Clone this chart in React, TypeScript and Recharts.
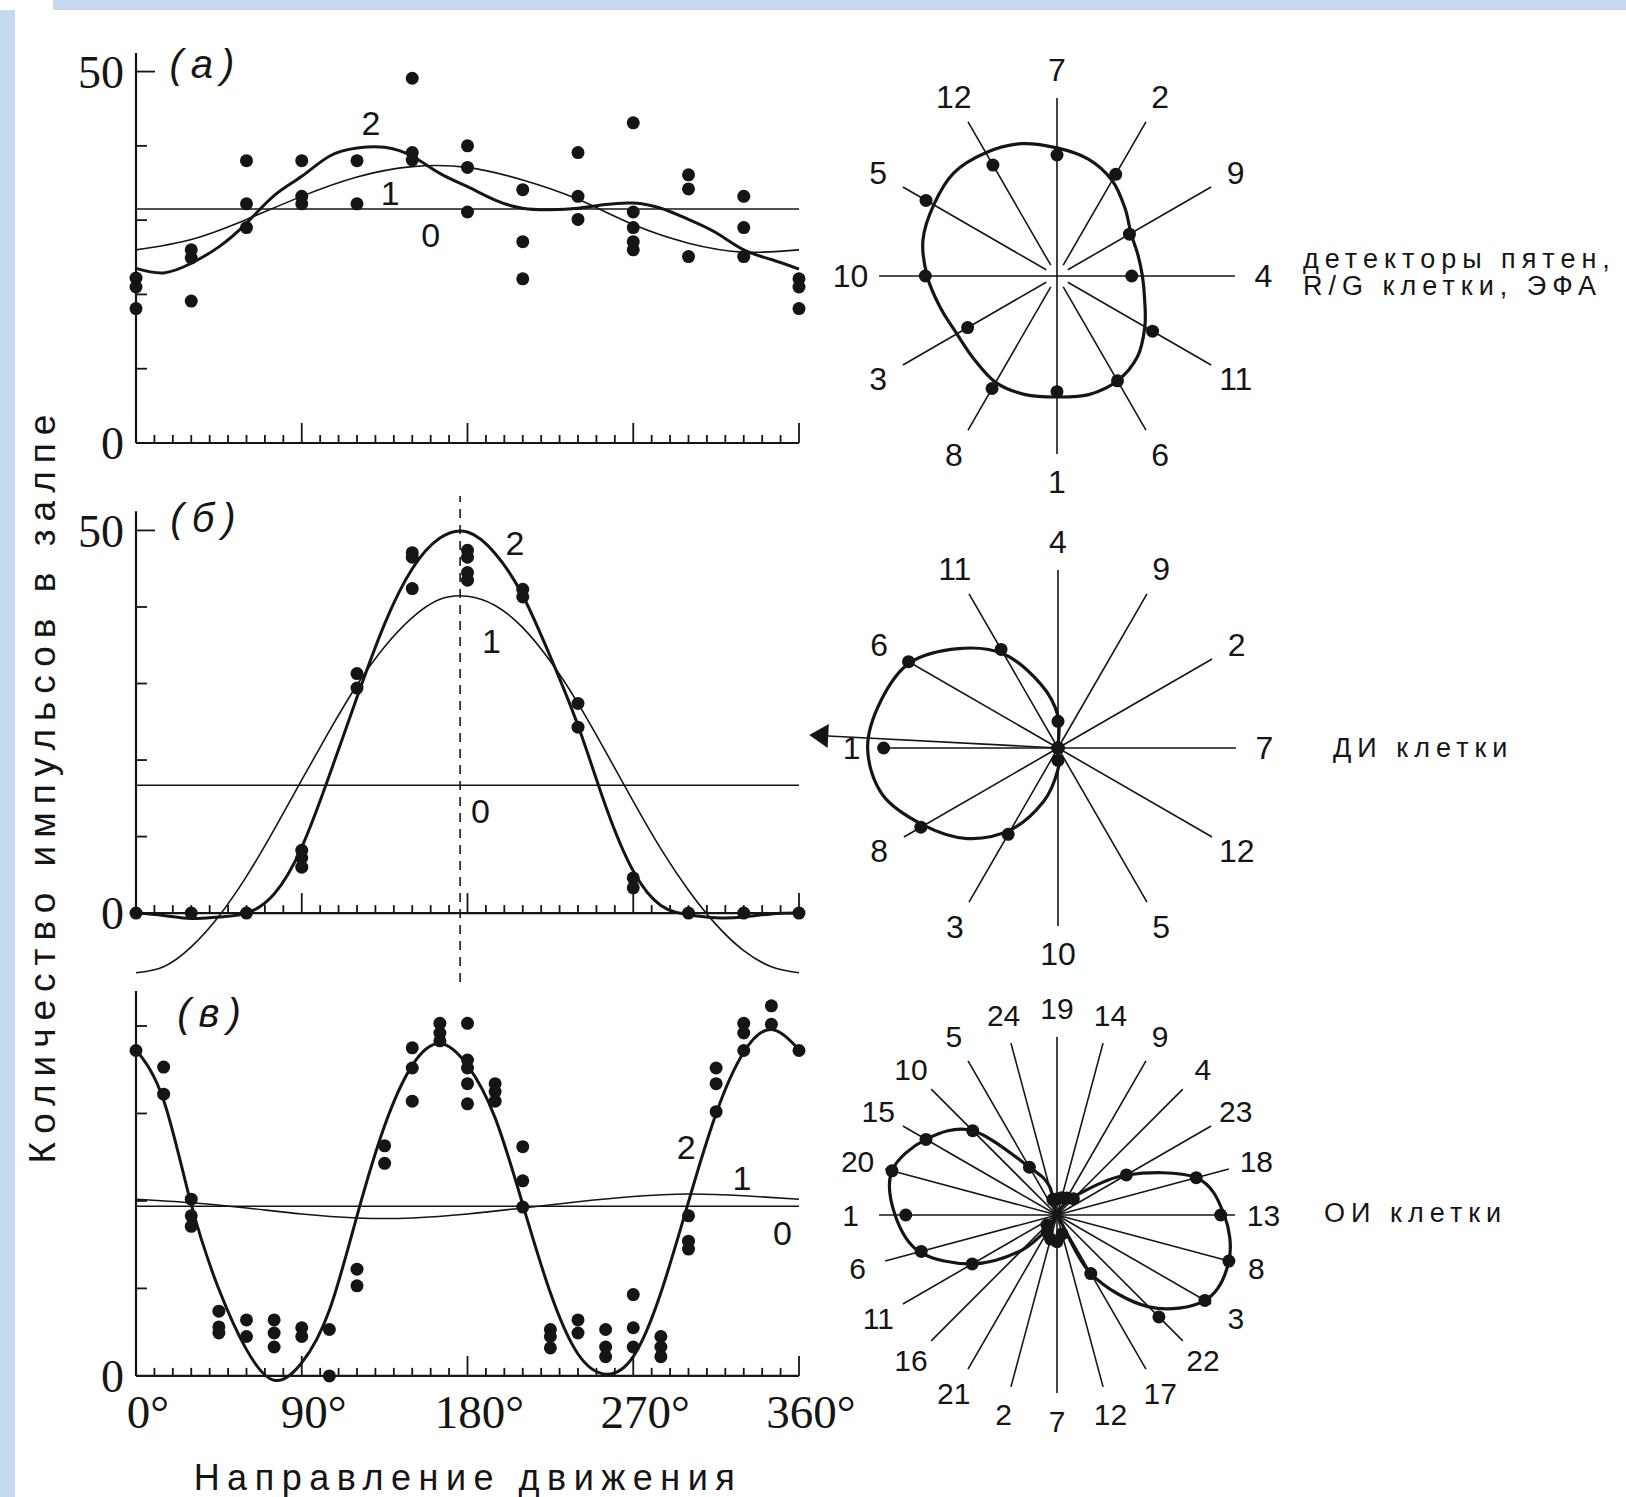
import React from 'react';
import { ComposedChart, XAxis, YAxis, Scatter, Line, ReferenceLine, ReferenceDot } from 'recharts';

const INK = '#151515';
const SERIF = '"Liberation Serif", "Times New Roman", serif';
const SANS = '"Liberation Sans", Arial, sans-serif';

// directions of movement, degrees
const coarseDirs = [0, 30, 60, 90, 120, 150, 180, 210, 240, 270, 300, 330, 360];
const fineDirs = [0, 15, 30, 45, 60, 75, 90, 105, 120, 135, 150, 165, 180, 195, 210, 225, 240, 255, 270, 285, 300, 315, 330, 345, 360];
const minorTicks = [0, 10, 20, 30, 40, 50, 60, 70, 80, 90, 100, 110, 120, 130, 140, 150, 160, 170, 180, 190, 200, 210, 220, 230, 240, 250, 260, 270, 280, 290, 300, 310, 320, 330, 340, 350, 360];
const degreeLabels = [0, 90, 180, 270, 360];

// (а) spot detectors, R/G cells, EFA — spikes per burst at coarseDirs
const countsA = [
  [22.2, 21.0, 18.1],
  [26.0, 24.9, 19.1],
  [38.0, 32.2, 29.0],
  [38.0, 33.2, 32.2],
  [38.0, 32.2],
  [49.1, 39.1, 38.1],
  [40.0, 37.1, 31.1],
  [34.1, 27.1, 22.1],
  [39.1, 33.2, 30.1],
  [43.1, 31.1, 29.0, 27.1, 26.0],
  [36.1, 34.2, 25.1],
  [33.2, 29.0, 25.1],
  [22.1, 21.0, 18.1],
];
const fit1A = [26.0, 27.4, 30.1, 33.2, 35.8, 37.2, 37.1, 35.4, 32.8, 29.4, 26.9, 25.7, 26.0];
const fit2A = [23.5, 22.9, 24.2, 26.4, 29.6, 33.3, 35.9, 38.6, 39.7, 39.8, 38.6, 36.3, 34.5, 32.7, 31.6, 31.4, 31.6, 32.1, 32.3, 31.6, 30.1, 28.3, 26.0, 24.7, 23.4];
const level0A = 31.5;

// (б) direction-selective cells
const countsB = [
  [0],
  [0],
  [0],
  [8.2, 7.2, 6.0],
  [31.3, 29.4],
  [47.1, 46.5, 42.4],
  [47.4, 46.5, 44.5, 43.5],
  [42.3, 41.3],
  [27.4, 24.3],
  [4.6, 3.3],
  [0],
  [0],
  [0],
];
const fit1B = [-7.8, -7.0, -4.4, -0.4, 4.8, 10.9, 17.4, 23.8, 29.8, 34.8, 38.6, 41.0, 41.4, 40.2, 37.3, 32.9, 27.4, 21.1, 14.6, 8.4, 3.0, -1.5, -4.9, -7.0, -7.8];
const fit2B = [0, -0.3, -0.7, -0.5, 0, 2.5, 8.6, 18.0, 28.2, 37.8, 45.0, 49.0, 49.8, 47.0, 41.5, 33.5, 24.5, 14.0, 5.5, 1.0, -0.2, -0.6, -0.5, -0.1, 0];
const level0B = 16.7;
const preferredB = 176;

// (в) orientation-selective cells — counts at fineDirs
const countsC = [
  [37.2],
  [35.3, 32.2],
  [20.2, 18.3, 17.1],
  [7.4, 5.6, 4.9],
  [6.4, 4.5],
  [6.4, 4.9, 3.3],
  [5.5, 4.5],
  [5.3, 0],
  [12.2, 10.3],
  [26.3, 24.3],
  [37.5, 35.2, 31.4],
  [40.3, 39.2, 38.3],
  [40.3, 36.1, 35.2, 33.4, 31.1],
  [33.4, 32.5, 31.4],
  [26.2, 22.3, 19.3],
  [5.3, 4.5, 3.2],
  [6.4, 4.9],
  [5.3, 3.3, 2.2],
  [9.3, 5.5, 3.3],
  [4.5, 3.3, 2.2],
  [18.3, 15.4, 14.5],
  [35.2, 33.4, 30.2],
  [40.3, 39.2, 37.2],
  [42.3, 40.2],
  [37.2],
];
const fit1C = [20.2, 19.8, 19.2, 18.5, 18.05, 18.05, 18.5, 19.2, 19.9, 20.5, 20.8, 20.6, 20.2];
const fit2C = [37.3, 31.5, 19.6, 9.9, 3.0, -0.5, 1.5, 7.5, 18.3, 28.6, 35.5, 38.0, 35.5, 29.5, 19.6, 9.5, 2.5, 0.2, 2.2, 9.5, 19.9, 30.0, 37.0, 39.6, 37.3];
const level0C = 19.4;

// polar diagrams: trial numbers on the spokes, clockwise from the top; response radius (spoke = 100)
const spokesA = ['7', '2', '9', '4', '11', '6', '1', '8', '3', '10', '5', '12'];
const spokeDotsA = [68, 66, 47, 42, 62, 68, 65, 73, 58, 74, 85, 72];
const loopAngA = [0, 15, 30, 45, 60, 75, 90, 105, 120, 135, 150, 165, 180, 195, 210, 225, 240, 255, 270, 285, 300, 315, 330, 345];
const loopRA = [48, 47, 48, 54, 62, 68, 72, 77, 80, 82, 80, 78, 73, 68, 65, 66, 69, 69, 68, 69, 68, 64, 57, 51];

const spokesB = ['4', '9', '2', '7', '12', '5', '10', '3', '8', '1', '6', '11'];
const spokeDotsB = [15, 0, 0, 0, 0, 0, 7, 56, 89, 98, 97, 64];
const loopAngB = [90, 105, 120, 135, 150, 165, 180, 195, 210, 225, 240, 255, 270, 0];
const loopRB = [18, 37, 61, 79, 96, 103, 107, 102, 87, 72, 53, 31, 12, 0];
const arrowAngB = 177;
const arrowRB = 140;

const spokesC = ['19', '14', '9', '4', '23', '18', '13', '8', '3', '22', '17', '12', '7', '2', '21', '16', '11', '6', '1', '20', '15', '10', '5', '24'];
const spokeDotsC = [9, 10, 11, 13, 45, 81, 92, 100, 96, 81, 38, 11, 15, 14, 11, 8, 55, 79, 85, 96, 85, 67, 31, 9];
const loopAngC = [90, 105, 120, 135, 150, 165, 180, 195, 210, 225, 240, 270, 300, 315, 330, 345, 0, 15, 30, 45, 60];
const loopRC = [0, 17, 31, 67, 85, 96, 91, 80, 55, 28, 6, 0, 38, 73, 96, 100, 94, 81, 45, 16, 5];

// closed Catmull-Rom curve for the polar loops
const closedSmooth = (context: any) => {
  let pts: number[][] = [];
  return {
    areaStart() {},
    areaEnd() {},
    lineStart() {
      pts = [];
    },
    point(x: number, y: number) {
      pts.push([+x, +y]);
    },
    lineEnd() {
      const n = pts.length;
      if (n < 3) return;
      context.moveTo(pts[0][0], pts[0][1]);
      for (let i = 0; i < n; i++) {
        const p0 = pts[(i + n - 1) % n];
        const p1 = pts[i];
        const p2 = pts[(i + 1) % n];
        const p3 = pts[(i + 2) % n];
        context.bezierCurveTo(
          p1[0] + (p2[0] - p0[0]) / 6,
          p1[1] + (p2[1] - p0[1]) / 6,
          p2[0] - (p3[0] - p1[0]) / 6,
          p2[1] - (p3[1] - p1[1]) / 6,
          p2[0],
          p2[1]
        );
      }
      context.closePath();
    },
  };
};

const Dot = (p: any) => <circle cx={p.cx} cy={p.cy} r={6.5} fill={INK} />;
const XMark = (p: any) => (
  <line x1={p.cx} x2={p.cx} y1={p.cy} y2={p.cy - (p.payload.x % 90 === 0 ? 20 : 8)} stroke={INK} strokeWidth={1.8} />
);
const YMark = (p: any) => (
  <line x1={p.cx} x2={p.cx + (p.payload.y === 50 ? 19 : 11)} y1={p.cy} y2={p.cy} stroke={INK} strokeWidth={1.8} />
);
const DegreeTick = (p: any) => (
  <text x={p.x + 12} y={p.y + 39} textAnchor="middle" fontFamily={SERIF} fontSize={47} fill={INK}>
    {p.payload.value}°
  </text>
);

type Tag = { text: string; x: number; y: number; panel?: boolean };

const textShape = (t: Tag) => (p: any) => (
  <text
    x={p.cx}
    y={p.cy}
    textAnchor="middle"
    dominantBaseline="central"
    fontFamily={SANS}
    fontStyle={t.panel ? 'italic' : 'normal'}
    fontSize={t.panel ? 40 : 34}
    letterSpacing={t.panel ? 8 : 0}
    fill={INK}
  >
    {t.text}
  </text>
);

type PanelCfg = {
  top: number;
  height: number;
  mTop: number;
  mBottom: number;
  yDomain: [number, number];
  axisTop: number;
  yMarks: number[];
  yLabels: number[];
  dotDirs: number[];
  counts: number[][];
  fit1Dirs: number[];
  fit1: number[];
  fit2: number[];
  level0: number;
  peak?: number;
  degrees?: boolean;
  tags: Tag[];
};

function DirectionPanel({ c }: { c: PanelCfg }) {
  const dots = c.dotDirs.flatMap((d, i) => c.counts[i].map((v) => ({ x: d, y: v })));
  const fit1 = c.fit1Dirs.map((d, i) => ({ x: d, y: c.fit1[i] }));
  const fit2 = fineDirs.map((d, i) => ({ x: d, y: c.fit2[i] }));
  const xMarks = minorTicks.map((d) => ({ x: d, y: 0 }));
  const yMarks = c.yMarks.map((v) => ({ x: 0, y: v }));
  return (
    <div style={{ position: 'absolute', left: 0, top: c.top }}>
      <ComposedChart width={900} height={c.height} margin={{ top: c.mTop, right: 101, bottom: c.mBottom, left: 76 }}>
        <XAxis
          type="number"
          dataKey="x"
          domain={[0, 360]}
          hide={!c.degrees}
          ticks={degreeLabels}
          axisLine={false}
          tickLine={false}
          tickSize={0}
          tickMargin={0}
          height={50}
          interval={0}
          tick={<DegreeTick />}
        />
        <YAxis
          type="number"
          dataKey="y"
          domain={c.yDomain}
          ticks={c.yLabels}
          width={60}
          axisLine={false}
          tickLine={false}
          tickSize={0}
          tickMargin={12}
          interval={0}
          tick={{ fontFamily: SERIF, fontSize: 46, fill: INK }}
        />
        <ReferenceLine y={c.level0} stroke={INK} strokeWidth={1.6} />
        {c.peak !== undefined && <ReferenceLine x={c.peak} stroke={INK} strokeWidth={1.6} strokeDasharray="9 7" />}
        <ReferenceLine segment={[{ x: 0, y: 0 }, { x: 360, y: 0 }]} stroke={INK} strokeWidth={2.2} ifOverflow="visible" />
        <ReferenceLine segment={[{ x: 0, y: 0 }, { x: 0, y: c.axisTop }]} stroke={INK} strokeWidth={2.2} ifOverflow="visible" />
        <Scatter data={xMarks} shape={XMark} isAnimationActive={false} />
        <Scatter data={yMarks} shape={YMark} isAnimationActive={false} />
        <Line data={fit1} dataKey="y" type="natural" stroke={INK} strokeWidth={1.6} dot={false} activeDot={false} isAnimationActive={false} />
        <Line data={fit2} dataKey="y" type="natural" stroke={INK} strokeWidth={3} dot={false} activeDot={false} isAnimationActive={false} />
        <Scatter data={dots} shape={Dot} isAnimationActive={false} />
        {c.tags.map((t, i) => (
          <ReferenceDot key={i} x={t.x} y={t.y} r={0} shape={textShape(t)} />
        ))}
      </ComposedChart>
    </div>
  );
}

const PR = 145;
const rad = (a: number) => (a * Math.PI) / 180;
const polarXY = (a: number, r: number) => ({ x: r * Math.cos(rad(a)), y: r * Math.sin(rad(a)) });

type PolarCfg = {
  cx: number;
  cy: number;
  step: number;
  spokes: string[];
  dotR: number[];
  loopAng: number[];
  loopR: number[];
  gap: number;
  font: number;
  arrow?: { a: number; r: number };
};

const arrowHead = (a: number) => (p: any) => {
  const dx = Math.cos(rad(a));
  const dy = -Math.sin(rad(a));
  const bx = p.cx - 19 * dx;
  const by = p.cy - 19 * dy;
  const pts = [
    [p.cx, p.cy],
    [bx - 12 * dy, by + 12 * dx],
    [bx + 12 * dy, by - 12 * dx],
  ];
  return <polygon points={pts.map((q) => q.join(',')).join(' ')} fill={INK} />;
};

function PolarPanel({ c }: { c: PolarCfg }) {
  const angles = c.spokes.map((_, i) => 90 - i * c.step);
  const dots = angles.map((a, i) => polarXY(a, c.dotR[i]));
  const loop = c.loopAng.map((a, i) => polarXY(a, c.loopR[i]));
  return (
    <div style={{ position: 'absolute', left: c.cx - 258, top: c.cy - 258 }}>
      <ComposedChart width={516} height={516} margin={{ top: 0, right: 0, bottom: 0, left: 0 }}>
        <XAxis type="number" dataKey="x" domain={[-PR, PR]} hide />
        <YAxis type="number" dataKey="y" domain={[-PR, PR]} hide />
        {angles.map((a, i) => (
          <ReferenceLine
            key={'s' + i}
            segment={[polarXY(a, a % 90 === 0 ? 0 : c.gap), polarXY(a, 100)]}
            stroke={INK}
            strokeWidth={1.6}
            ifOverflow="visible"
          />
        ))}
        {c.arrow && (
          <ReferenceLine segment={[{ x: 0, y: 0 }, polarXY(c.arrow.a, c.arrow.r - 8)]} stroke={INK} strokeWidth={1.6} ifOverflow="visible" />
        )}
        {c.arrow && (
          <ReferenceDot {...polarXY(c.arrow.a, c.arrow.r)} r={0} shape={arrowHead(c.arrow.a)} ifOverflow="visible" />
        )}
        <Line data={loop} dataKey="y" type={closedSmooth as any} stroke={INK} strokeWidth={3.2} fill="none" dot={false} activeDot={false} isAnimationActive={false} />
        <Scatter data={dots} shape={Dot} isAnimationActive={false} />
        {angles.map((a, i) => (
          <ReferenceDot
            key={'l' + i}
            {...polarXY(a, 116)}
            r={0}
            ifOverflow="visible"
            shape={(p: any) => (
              <text x={p.cx} y={p.cy} textAnchor="middle" dominantBaseline="central" fontFamily={SANS} fontSize={c.font} fill={INK}>
                {c.spokes[i]}
              </text>
            )}
          />
        ))}
      </ComposedChart>
    </div>
  );
}

const panelA: PanelCfg = {
  top: 0,
  height: 470,
  mTop: 53,
  mBottom: 27,
  yDomain: [0, 52.5],
  axisTop: 52.5,
  yMarks: [10, 20, 30, 40, 50],
  yLabels: [0, 50],
  dotDirs: coarseDirs,
  counts: countsA,
  fit1Dirs: coarseDirs,
  fit1: fit1A,
  fit2: fit2A,
  level0: level0A,
  tags: [
    { text: '(а)', x: 38, y: 51, panel: true },
    { text: '2', x: 127.6, y: 43.1 },
    { text: '1', x: 138, y: 33.6 },
    { text: '0', x: 160, y: 28.0 },
  ],
};

const panelB: PanelCfg = {
  top: 470,
  height: 530,
  mTop: 26,
  mBottom: 18,
  yDomain: [-9, 54.5],
  axisTop: 52.5,
  yMarks: [10, 20, 30, 40, 50],
  yLabels: [0, 50],
  dotDirs: coarseDirs,
  counts: countsB,
  fit1Dirs: fineDirs,
  fit1: fit1B,
  fit2: fit2B,
  level0: level0B,
  peak: preferredB,
  tags: [
    { text: '(б)', x: 38.5, y: 51.6, panel: true },
    { text: '2', x: 205.8, y: 48.4 },
    { text: '1', x: 193, y: 35.6 },
    { text: '0', x: 187, y: 13.4 },
  ],
};

const panelC: PanelCfg = {
  top: 960,
  height: 537,
  mTop: 31,
  mBottom: 58,
  yDomain: [-1.5, 44],
  axisTop: 44,
  yMarks: [10, 20, 30, 40],
  yLabels: [0],
  dotDirs: fineDirs,
  counts: countsC,
  fit1Dirs: coarseDirs,
  fit1: fit1C,
  fit2: fit2C,
  level0: level0C,
  degrees: true,
  tags: [
    { text: '(в)', x: 41.8, y: 41.5, panel: true },
    { text: '2', x: 298.8, y: 26.2 },
    { text: '1', x: 329, y: 22.6 },
    { text: '0', x: 351, y: 16.3 },
  ],
};

const polarA: PolarCfg = { cx: 1057, cy: 276, step: 30, spokes: spokesA, dotR: spokeDotsA, loopAng: loopAngA, loopR: loopRA, gap: 7, font: 32 };
const polarB: PolarCfg = {
  cx: 1058,
  cy: 748,
  step: 30,
  spokes: spokesB,
  dotR: spokeDotsB,
  loopAng: loopAngB,
  loopR: loopRB,
  gap: 0,
  font: 32,
  arrow: { a: arrowAngB, r: arrowRB },
};
const polarC: PolarCfg = { cx: 1057, cy: 1215, step: 15, spokes: spokesC, dotR: spokeDotsC, loopAng: loopAngC, loopR: loopRC, gap: 0, font: 30 };

const noteStyle = { fontFamily: SANS, fontSize: 27, fill: INK, letterSpacing: 6 } as const;

export default function App() {
  return (
    <div style={{ position: 'absolute', left: 0, top: 0, width: 1626, height: 1497, background: '#ffffff', overflow: 'hidden' }}>
      <div style={{ position: 'absolute', left: 53, top: 0, width: 1573, height: 10, background: '#c6d9f1' }} />
      <div style={{ position: 'absolute', left: 0, top: 10, width: 15, height: 1487, background: '#c6d9f1' }} />
      <DirectionPanel c={panelA} />
      <DirectionPanel c={panelB} />
      <DirectionPanel c={panelC} />
      <PolarPanel c={polarA} />
      <PolarPanel c={polarB} />
      <PolarPanel c={polarC} />
      <svg width={1626} height={1497} style={{ position: 'absolute', left: 0, top: 0, pointerEvents: 'none' }}>
        <text transform="translate(55,785) rotate(-90)" textAnchor="middle" fontFamily={SANS} fontSize={37} fill={INK} letterSpacing={8}>
          Количество импульсов в залпе
        </text>
        <text x={468} y={1490} textAnchor="middle" fontFamily={SANS} fontSize={36} fill={INK} letterSpacing={7.5}>
          Направление движения
        </text>
        <text x={1303} y={268} {...noteStyle}>
          детекторы пятен,
        </text>
        <text x={1303} y={295} {...noteStyle}>
          R/G клетки, ЭФА
        </text>
        <text x={1333} y={757} {...noteStyle}>
          ДИ клетки
        </text>
        <text x={1324} y={1222} {...noteStyle}>
          ОИ клетки
        </text>
      </svg>
    </div>
  );
}
